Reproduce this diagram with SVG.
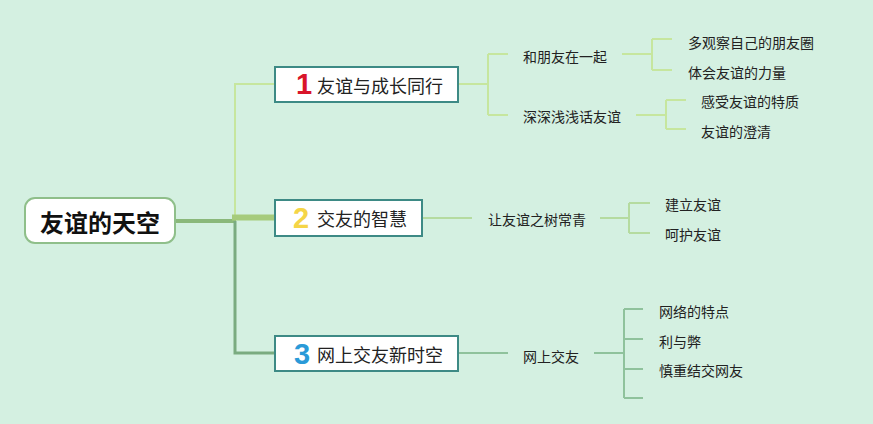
<svg xmlns="http://www.w3.org/2000/svg" width="873" height="424" viewBox="0 0 873 424">
<style>
.t{font-family:"Noto Sans CJK SC","Noto Sans",sans-serif;fill:#222;dominant-baseline:central}
.s{font-size:14px}
.m{font-size:18px}
.r{font-size:24px;font-weight:bold;fill:#111}
.n{font-family:"Liberation Sans","DejaVu Sans",sans-serif;font-size:29px;font-weight:bold;dominant-baseline:central}
.box{fill:#fff;stroke:#3d8a85;stroke-width:2}
.c1{fill:none;stroke:#c6e69e;stroke-width:2}
.c2{fill:none;stroke:#b5dba0;stroke-width:2}
.c3{fill:none;stroke:#8fc29c;stroke-width:2}
</style>
<rect width="873" height="424" fill="#d4f0e1"/>
<g id="connectors">
<path d="M175 221 H236" stroke="#8ab87a" stroke-width="4" fill="none"/>
<path d="M235 219 V84 H275" class="c1"/>
<path d="M232 217.5 H275" stroke="#a6cb7c" stroke-width="6" fill="none"/>
<path d="M235 221 V353 H275" stroke="#7aab80" stroke-width="3" fill="none"/>
<path d="M458 84 H488 M488 54 V115 M488 54 H508 M488 115 H508" class="c1"/>
<path d="M622 54 H652 M652 39 V70 M652 39 H672 M652 70 H672" class="c1"/>
<path d="M636 115 H666 M666 100 V129 M666 100 H686 M666 129 H686" class="c1"/>
<path d="M422 218 H472" class="c2"/>
<path d="M600 218 H629 M629 203 V233 M629 203 H650 M629 233 H650" class="c2"/>
<path d="M458 353 H508" class="c3"/>
<path d="M594 353 H624 M624 309 V398 M624 309 H643 M624 339 H643 M624 369 H643 M624 398 H643" class="c3"/>
</g>
<g id="root">
<rect x="25" y="198" width="150" height="45" rx="10" fill="#fff" stroke="#8fbf8a" stroke-width="2"/>
<text x="100" y="221" class="t r" text-anchor="middle">友谊的天空</text>
</g>
<g id="n1">
<rect x="275" y="67" width="183" height="35" class="box"/>
<text x="296" y="84" class="n" fill="#d9152a">1</text>
<text x="317" y="85" class="t m">友谊与成长同行</text>
</g>
<g id="n2">
<rect x="275" y="200" width="147" height="36" class="box"/>
<text x="293" y="218" class="n" fill="#f5d547">2</text>
<text x="317" y="218" class="t m">交友的智慧</text>
</g>
<g id="n3">
<rect x="275" y="336" width="183" height="35" class="box"/>
<text x="294" y="354" class="n" fill="#2a9ad8">3</text>
<text x="317" y="354" class="t m">网上交友新时空</text>
</g>
<g id="n1a"><text x="523" y="56" class="t s">和朋友在一起</text></g>
<g id="n1a1"><text x="688" y="42" class="t s">多观察自己的朋友圈</text></g>
<g id="n1a2"><text x="688" y="72" class="t s">体会友谊的力量</text></g>
<g id="n1b"><text x="523" y="116" class="t s">深深浅浅话友谊</text></g>
<g id="n1b1"><text x="701" y="101" class="t s">感受友谊的特质</text></g>
<g id="n1b2"><text x="701" y="131" class="t s">友谊的澄清</text></g>
<g id="n2a"><text x="488" y="219" class="t s">让友谊之树常青</text></g>
<g id="n2a1"><text x="665" y="204" class="t s">建立友谊</text></g>
<g id="n2a2"><text x="665" y="234" class="t s">呵护友谊</text></g>
<g id="n3a"><text x="523" y="356" class="t s">网上交友</text></g>
<g id="n3a1"><text x="659" y="311" class="t s">网络的特点</text></g>
<g id="n3a2"><text x="659" y="341" class="t s">利与弊</text></g>
<g id="n3a3"><text x="659" y="370" class="t s">慎重结交网友</text></g>
</svg>
